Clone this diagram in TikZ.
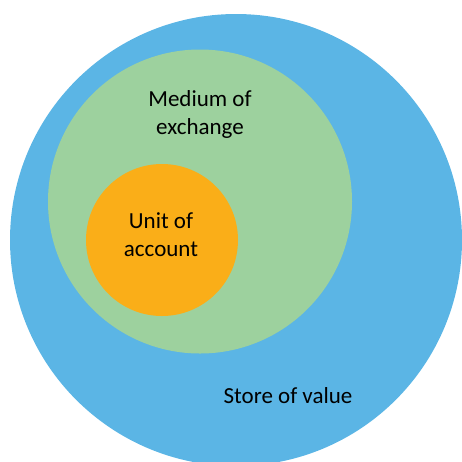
\documentclass[tikz,border=0pt]{standalone}
\usepackage{fontspec}
\setmainfont{Carlito}
\usetikzlibrary{shapes.geometric}

\definecolor{storeblue}{RGB}{91,181,229}
\definecolor{mediumgreen}{RGB}{157,209,158}
\definecolor{unitorange}{RGB}{250,174,24}

\begin{document}
\begin{tikzpicture}[x=1pt,y=-1pt]
            \useasboundingbox (0,0) rectangle (462,461);
            \begin{scope}
            \clip (0,0) rectangle (462,461);

            % Store of value
            \node[fill=storeblue, circle, minimum size=452pt, inner sep=0pt] (store) at (236,240) {};

            % Medium of exchange
            \node[fill=mediumgreen, circle, minimum size=304pt, inner sep=0pt] (medium) at (200,201.5) {};

            % Unit of account
            \node[fill=unitorange, circle, minimum size=152pt, inner sep=0pt] (unit) at (162,240) {};
            \end{scope}

            % Labels
            \node[align=center, font=\fontsize{23}{28}\selectfont] (mlabel) at (200,114) {Medium of\\exchange};
            \node[align=center, font=\fontsize{23}{28}\selectfont] (ulabel) at (161,235) {Unit of\\account};
            \node[anchor=base, font=\fontsize{23}{28}\selectfont] (slabel) at (288,403) {Store of value};

        \end{tikzpicture}
\end{document}
